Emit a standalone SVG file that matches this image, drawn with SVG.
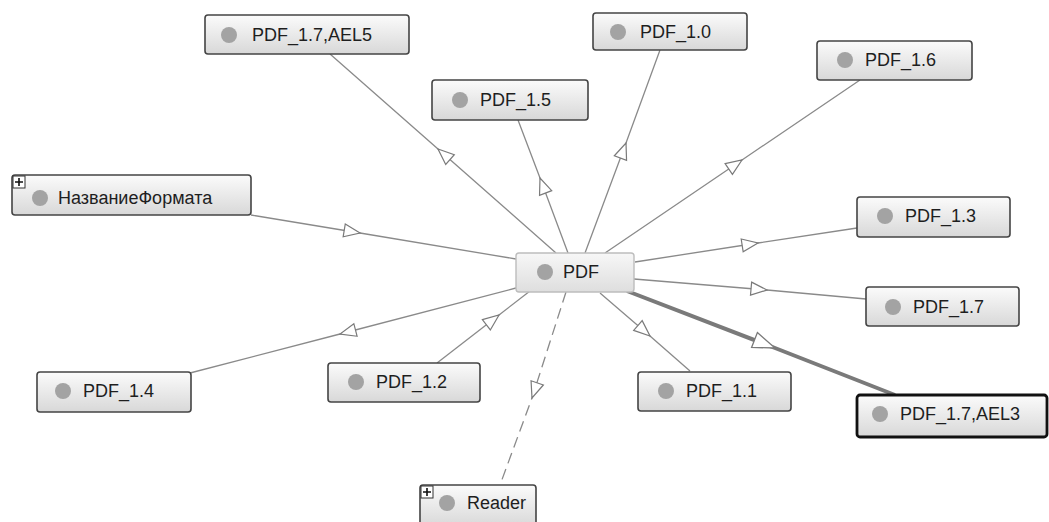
<svg xmlns="http://www.w3.org/2000/svg" width="1049" height="522" viewBox="0 0 1049 522">
<style>
.edge{fill:none;stroke:#8a8a8a;stroke-width:1.3;marker-mid:url(#arr)}
.thick{fill:none;stroke:#7a7a7a;stroke-width:4;marker-mid:url(#arrB)}
.dash{stroke-dasharray:11,6}
.box{fill:url(#g);stroke:#444;stroke-width:1.6}
.focus{fill:url(#g2);stroke:#bdbdbd;stroke-width:1.4}
.sel{fill:url(#g);stroke:#111;stroke-width:2.8}
.dot{fill:#a3a3a3}
.lbl{font-family:"Liberation Sans",Arial,sans-serif;font-size:18px;fill:#1e1e1e}
.pl{fill:#fff;stroke:#333;stroke-width:1}
.plx{stroke:#111;stroke-width:1.6}
</style>
<defs>
<linearGradient id="g" x1="0" y1="0" x2="0" y2="1"><stop offset="0" stop-color="#fbfbfb"/><stop offset="1" stop-color="#d8d8d8"/></linearGradient>
<linearGradient id="g2" x1="0" y1="0" x2="0" y2="1"><stop offset="0" stop-color="#f7f7f7"/><stop offset="1" stop-color="#dedede"/></linearGradient>
<marker id="arr" markerUnits="userSpaceOnUse" markerWidth="18" markerHeight="14" refX="16" refY="6.5" orient="auto" overflow="visible"><path d="M0,0 L16,6.5 L0,13 Z" fill="#fff" stroke="#7a7a7a" stroke-width="1.2"/></marker>
<marker id="arrB" markerUnits="userSpaceOnUse" markerWidth="26" markerHeight="20" refX="22" refY="8" orient="auto" overflow="visible"><path d="M0,0 L22,8 L0,16 Z" fill="#fff" stroke="#7a7a7a" stroke-width="1.3"/></marker>
</defs>
<g id="connectors">
<polyline class="edge" points="556,253 438,149 330,54"/>
<polyline class="edge" points="568,253 540,178 518,120"/>
<polyline class="edge" points="585,253 626,143 660,50"/>
<polyline class="edge" points="605,253 742,160 860,80"/>
<polyline class="edge" points="251,215 360,233 516,259"/>
<polyline class="edge" points="635,262 758,243 857,228"/>
<polyline class="edge" points="634,279 767,290 866,299"/>
<polyline class="thick" points="627,291 775,348 895,395"/>
<polyline class="edge" points="600,293 650,336 690,371"/>
<polyline class="edge" points="437,363 499,315 530,291"/>
<polyline class="edge" points="516,288 340,334 190,373"/>
<polyline class="edge dash" points="566,292 532,398 500,485"/>
</g>
<g id="node-ael5"><rect class="box" x="205" y="15" width="204" height="39" rx="3"/><circle class="dot" cx="229" cy="35" r="8"/><text class="lbl" x="252" y="41">PDF_1.7,AEL5</text></g>
<g id="node-10"><rect class="box" x="593" y="13" width="154" height="37" rx="3"/><circle class="dot" cx="618" cy="32" r="8"/><text class="lbl" x="640" y="38">PDF_1.0</text></g>
<g id="node-16"><rect class="box" x="817" y="41" width="155" height="39" rx="3"/><circle class="dot" cx="845" cy="60" r="8"/><text class="lbl" x="865" y="66">PDF_1.6</text></g>
<g id="node-15"><rect class="box" x="432" y="80" width="156" height="40" rx="3"/><circle class="dot" cx="460" cy="100" r="8"/><text class="lbl" x="480" y="106">PDF_1.5</text></g>
<g id="node-name"><rect class="box" x="12" y="175" width="239" height="40" rx="3"/><rect class="pl" x="13" y="176" width="12" height="12"/><path class="plx" d="M15,182 H23 M19,178 V186"/><circle class="dot" cx="40" cy="198" r="8"/><text class="lbl" x="58" y="204">НазваниеФормата</text></g>
<g id="node-13"><rect class="box" x="857" y="197" width="153" height="40" rx="3"/><circle class="dot" cx="885" cy="216" r="8"/><text class="lbl" x="905" y="222">PDF_1.3</text></g>
<g id="node-pdf"><rect class="focus" x="516" y="253" width="118" height="39" rx="3"/><circle class="dot" cx="545" cy="272" r="8"/><text class="lbl" x="563" y="278">PDF</text></g>
<g id="node-17"><rect class="box" x="866" y="287" width="153" height="39" rx="3"/><circle class="dot" cx="893" cy="307" r="8"/><text class="lbl" x="913" y="313">PDF_1.7</text></g>
<g id="node-12"><rect class="box" x="328" y="363" width="152" height="39" rx="3"/><circle class="dot" cx="356" cy="382" r="8"/><text class="lbl" x="376" y="388">PDF_1.2</text></g>
<g id="node-11"><rect class="box" x="638" y="372" width="153" height="39" rx="3"/><circle class="dot" cx="666" cy="391" r="8"/><text class="lbl" x="686" y="397">PDF_1.1</text></g>
<g id="node-14"><rect class="box" x="37" y="372" width="154" height="40" rx="3"/><circle class="dot" cx="63" cy="391" r="8"/><text class="lbl" x="83" y="397">PDF_1.4</text></g>
<g id="node-ael3"><rect class="sel" x="857" y="395" width="190" height="42" rx="3"/><circle class="dot" cx="880" cy="414" r="8"/><text class="lbl" x="900" y="420">PDF_1.7,AEL3</text></g>
<g id="node-reader"><rect class="box" x="420" y="485" width="116" height="42" rx="3"/><rect class="pl" x="421" y="486" width="12" height="12"/><path class="plx" d="M423,492 H431 M427,488 V496"/><circle class="dot" cx="447" cy="503" r="8"/><text class="lbl" x="467" y="509">Reader</text></g>
</svg>
